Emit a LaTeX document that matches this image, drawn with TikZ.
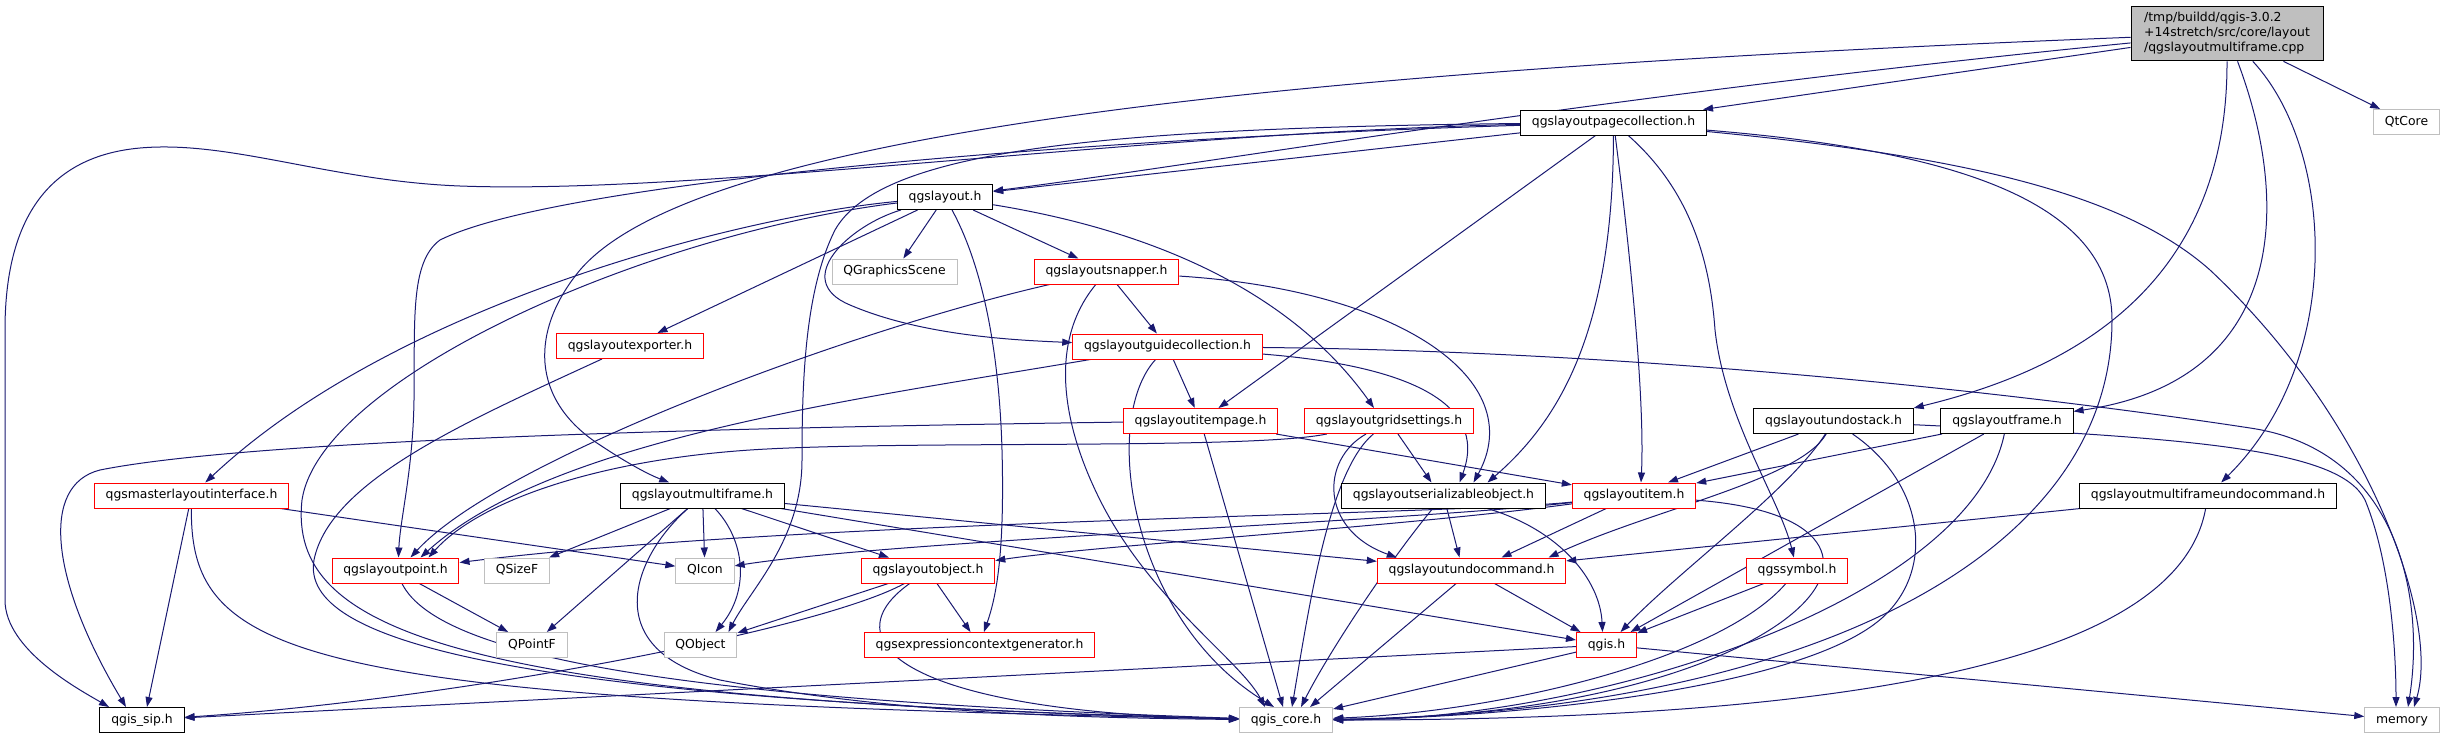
\documentclass[tikz,border=0pt]{standalone}
\usepackage{fontspec}
\setmainfont{DejaVu Sans}
\usetikzlibrary{arrows.meta,calc,backgrounds}
\definecolor{edgeblue}{RGB}{25,25,112}
\definecolor{boxgray}{RGB}{191,191,191}
\begin{document}
\begin{tikzpicture}[x=0.75pt,y=-0.75pt,>={Triangle[length=7.5pt,width=5.25pt]},font=\fontsize{9.3}{11.25}\selectfont]
\tikzstyle{hbox}=[rectangle,draw=black,line width=0.75pt,fill=white,inner xsep=8.5pt,inner ysep=0pt,minimum height=18.75pt,text height=7pt,text depth=2.2pt]
\tikzstyle{hred}=[hbox,draw=red]
\tikzstyle{hsys}=[hbox,draw=boxgray]
\tikzstyle{hroot}=[rectangle,draw=black,line width=0.75pt,fill=boxgray,align=left,inner xsep=5pt,minimum width=144pt,minimum height=41pt]
\tikzstyle{inc}=[->,draw=edgeblue,line width=0.75pt]
\useasboundingbox (0,0) rectangle (2456,739);
\node[hroot] (root) at (2227,33.5) {/tmp/buildd/qgis-3.0.2\\+14stretch/src/core/layout\\/qgslayoutmultiframe.cpp};
\node[hsys] (qtcore) at (2406.5,122) {QtCore};
\node[hbox] (pc) at (1613.5,122.5) {qgslayoutpagecollection.h};
\node[hbox] (lay) at (945,197) {qgslayout.h};
\node[hsys] (gscene) at (894.5,271.5) {QGraphicsScene};
\node[hred] (snap) at (1106.5,271.5) {qgslayoutsnapper.h};
\node[hred] (exp) at (630,346) {qgslayoutexporter.h};
\node[hred] (guide) at (1167.5,346.5) {qgslayoutguidecollection.h};
\node[hred] (ipage) at (1200.5,421) {qgslayoutitempage.h};
\node[hred] (grid) at (1389,421) {qgslayoutgridsettings.h};
\node[hbox] (ustack) at (1833.5,421) {qgslayoutundostack.h};
\node[hbox] (frame) at (2007,421) {qgslayoutframe.h};
\node[hred] (master) at (191.5,495.5) {qgsmasterlayoutinterface.h};
\node[hbox] (mf) at (702.5,495.5) {qgslayoutmultiframe.h};
\node[hbox] (ser) at (1443.5,495.5) {qgslayoutserializableobject.h};
\node[hred] (item) at (1634,495.5) {qgslayoutitem.h};
\node[hbox] (mfuc) at (2208,495.5) {qgslayoutmultiframeundocommand.h};
\node[hred] (pt) at (395.5,570.5) {qgslayoutpoint.h};
\node[hsys] (qsizef) at (517,570.5) {QSizeF};
\node[hsys] (qicon) at (705,570.5) {QIcon};
\node[hred] (obj) at (928,570.5) {qgslayoutobject.h};
\node[hred] (ucmd) at (1471.5,570.5) {qgslayoutundocommand.h};
\node[hred] (sym) at (1797,570.5) {qgssymbol.h};
\node[hsys] (qpointf) at (532,645) {QPointF};
\node[hsys] (qobject) at (700.5,645) {QObject};
\node[hred] (ecg) at (979.5,645) {qgsexpressioncontextgenerator.h};
\node[hred] (qgis) at (1606.5,645) {qgis.h};
\node[hbox] (sip) at (142,720) {qgis\_sip.h};
\node[hsys] (core) at (1286,720) {qgis\_core.h};
\node[hsys] (mem) at (2402,720) {memory};
\begin{scope}[on background layer]
% root
\draw[inc] (root) .. controls (1300,70) and (700,130) .. (580,270) .. controls (530,330) and (530,400) .. (600,445) .. controls (630,465) and (650,475) .. (mf);
\draw[inc] (root) .. controls (1600,95) and (1200,165) .. (lay);
\draw[inc] (root) -- (pc);
\draw[inc] (root.south) .. controls (2228,300) and (2050,375) .. (ustack.north east);
\draw[inc] (root) .. controls (2290,200) and (2290,380) .. (frame);
\draw[inc] (root) .. controls (2335,150) and (2345,360) .. (mfuc);
\draw[inc] (root) -- (qtcore);
% qgslayoutpagecollection.h
\draw[inc] (pc) -- (lay);
\draw[inc] (pc) .. controls (1150,132) and (700,195) .. (460,186) .. controls (330,181) and (230,140) .. (140,148) .. controls (40,157) and (5,230) .. (5,330) -- (5,600) .. controls (5,650) and (80,690) .. ($(sip.north)+(-33,0)$);
\draw[inc] (pc) .. controls (1100,138) and (560,180) .. (440,240) .. controls (410,262) and (415,320) .. (414,400) .. controls (413,470) and (400,520) .. ($(pt.north)+(3,0)$);
\draw[inc] (pc) .. controls (1100,128) and (880,150) .. (835,230) .. controls (805,290) and (802,380) .. (802,460) .. controls (802,540) and (750,590) .. ($(qobject.north)+(28,0)$);
\draw[inc] (pc) -- (ipage);
\draw[inc] (pc) .. controls (1613,330) and (1560,420) .. ($(ser.north)+(44,0)$);
\draw[inc] (pc) .. controls (1630,250) and (1645,400) .. ($(item.north)+(7,0)$);
\draw[inc] (pc) .. controls (1690,190) and (1710,260) .. (1715,330) .. controls (1725,420) and (1780,500) .. (sym);
\draw[inc] (pc) .. controls (1950,150) and (2112,200) .. (2112,320) .. controls (2112,560) and (1800,712) .. (core);
\draw[inc] (pc) .. controls (1950,155) and (2120,190) .. (2210,270) .. controls (2370,420) and (2440,620) .. ($(mem.north)+(12,0)$);
% qgslayout.h
\draw[inc] (lay) -- (gscene);
\draw[inc] (lay) -- (snap);
\draw[inc] (lay) .. controls (990,280) and (1000,380) .. (1002,450) .. controls (1005,560) and (995,600) .. (ecg);
\draw[inc] (lay) .. controls (1150,230) and (1290,290) .. ($(grid.north)+(-15,0)$);
\draw[inc] (lay) .. controls (750,215) and (400,300) .. (master);
\draw[inc] (lay) .. controls (640,235) and (320,380) .. (302,500) .. controls (288,630) and (450,700) .. (core);
\draw[inc] (lay) -- (exp);
\draw[inc] (lay) .. controls (850,225) and (790,280) .. (850,305) .. controls (920,335) and (1010,340) .. (guide);
% second rows
\draw[inc] (snap) -- (guide);
\draw[inc] (snap) .. controls (850,330) and (500,460) .. ($(pt.north)+(15,0)$);
\draw[inc] (snap) .. controls (1050,340) and (1060,420) .. (1100,500) .. controls (1150,600) and (1240,660) .. ($(core.north)+(-21,0)$);
\draw[inc] (snap) .. controls (1400,290) and (1530,380) .. ($(ser.north)+(30,0)$);
\draw[inc] (exp) .. controls (470,420) and (330,480) .. (314,560) .. controls (300,640) and (500,700) .. (core);
\draw[inc] (guide) -- (ipage);
\draw[inc] (guide) .. controls (850,400) and (550,440) .. ($(pt.north)+(25,0)$);
\draw[inc] (guide) .. controls (1100,420) and (1130,620) .. ($(core.north)+(-12,0)$);
\draw[inc] (guide) .. controls (1700,352) and (2100,405) .. (2250,428) .. controls (2400,450) and (2425,600) .. ($(mem.north)+(6,0)$);
\draw[inc] (guide) .. controls (1400,365) and (1490,400) .. ($(ser.north)+(16,0)$);
\draw[inc] (ipage) .. controls (700,428) and (250,440) .. (100,470) .. controls (40,485) and (50,580) .. ($(sip.north)+(-16,0)$);
\draw[inc] (ipage) -- ($(core.north)+(-3,0)$);
\draw[inc] (ipage) -- (item);
\draw[inc] (grid) .. controls (1250,450) and (900,440) .. (750,450) .. controls (600,460) and (480,500) .. ($(pt.north)+(33,0)$);
\draw[inc] (grid) .. controls (1330,470) and (1310,600) .. ($(core.north)+(6,0)$);
\draw[inc] (grid) .. controls (1320,460) and (1320,530) .. ($(ucmd.north west)+(20,0)$);
\draw[inc] (grid) -- ($(ser.north)+(-12,0)$);
\draw[inc] (ustack) -- ($(item.north)+(34,0)$);
\draw[inc] (ustack) .. controls (1800,480) and (1650,510) .. ($(ucmd.north)+(77,0)$);
\draw[inc] (ustack) .. controls (1790,490) and (1680,570) .. ($(qgis.north)+(14,0)$);
\draw[inc] (ustack) .. controls (1920,480) and (1935,560) .. (1890,610) .. controls (1820,690) and (1500,718) .. (core);
\draw[inc] (ustack) .. controls (2200,438) and (2340,450) .. (2365,500) .. controls (2390,560) and (2396,650) .. ($(mem.north)+(-6,0)$);
\draw[inc] (frame) -- (item);
\draw[inc] (frame) -- ($(qgis.north)+(24,0)$);
\draw[inc] (frame) .. controls (1970,600) and (1600,720) .. (core);
% lower rows
\draw[inc] (master) -- (qicon);
\draw[inc] (master) -- ($(sip.north)+(5,0)$);
\draw[inc] (master) .. controls (190,660) and (300,700) .. (core);
\draw[inc] (mf) -- (qsizef);
\draw[inc] (mf) -- (qpointf);
\draw[inc] (mf) -- (qicon);
\draw[inc] (mf) .. controls (745,540) and (750,590) .. ($(qobject.north)+(15,0)$);
\draw[inc] (mf) -- (obj);
\draw[inc] (mf) .. controls (630,560) and (600,650) .. (720,680) .. controls (900,715) and (1100,718) .. (core);
\draw[inc] (mf) -- (ucmd);
\draw[inc] (mf) -- (qgis);
\draw[inc] (ser) -- ($(ucmd.north)+(-12,0)$);
\draw[inc] (ser) .. controls (1390,560) and (1330,650) .. ($(core.north)+(15,0)$);
\draw[inc] (ser) .. controls (1560,530) and (1600,580) .. ($(qgis.north)+(-4,0)$);
\draw[inc] (item) .. controls (1450,515) and (800,520) .. (pt);
\draw[inc] (item) .. controls (1400,522) and (900,540) .. (qicon);
\draw[inc] (item) .. controls (1400,527) and (1100,545) .. (obj);
\draw[inc] (item) -- ($(ucmd.north)+(30,0)$);
\draw[inc] (item) .. controls (1960,520) and (1800,715) .. (core);
\draw[inc] (mfuc) -- (ucmd);
\draw[inc] (mfuc) .. controls (2180,650) and (1900,720) .. (core);
\draw[inc] (pt) -- (qpointf);
\draw[inc] (pt) .. controls (440,660) and (700,700) .. (core);
\draw[inc] (obj) -- (qobject);
\draw[inc] (obj) -- (ecg);
\draw[inc] (obj) .. controls (820,630) and (450,700) .. (sip);
\draw[inc] (obj) .. controls (830,640) and (900,712) .. (core);
\draw[inc] (ucmd) -- ($(core.north)+(24,0)$);
\draw[inc] (ucmd) -- ($(qgis.north)+(-26,0)$);
\draw[inc] (sym) -- (qgis);
\draw[inc] (sym) .. controls (1720,660) and (1500,712) .. (core);
\draw[inc] (qgis) -- (core);
\draw[inc] (qgis) -- (mem);
\draw[inc] (qgis) -- (sip);
\end{scope}
\end{tikzpicture}
\end{document}
